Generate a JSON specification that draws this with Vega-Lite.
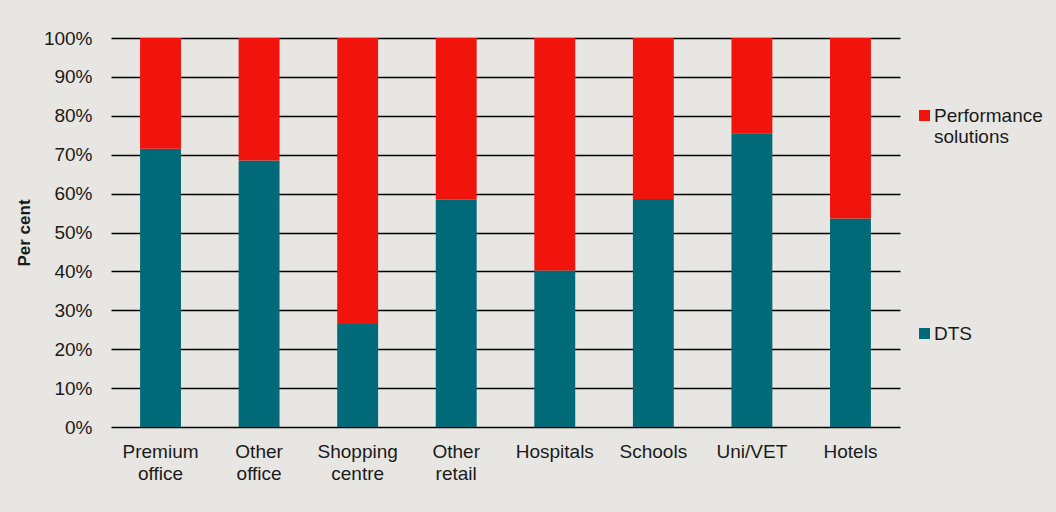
{
  "$schema": "https://vega.github.io/schema/vega-lite/v6.json",
  "width": 789,
  "height": 389,
  "autosize": "none",
  "padding": {"left": 111, "top": 38, "right": 156, "bottom": 85},
  "background": "#e8e6e2",
  "config": {
    "view": {"stroke": null},
    "font": "Liberation Sans",
    "axis": {"labelColor": "#1a1a1a", "titleColor": "#1a1a1a"}
  },
  "data": {
    "values": [
      {"category": "Premium office", "type": "DTS", "share": 71.5},
      {"category": "Premium office", "type": "Performance solutions", "share": 28.5},
      {"category": "Other office", "type": "DTS", "share": 68.5},
      {"category": "Other office", "type": "Performance solutions", "share": 31.5},
      {"category": "Shopping centre", "type": "DTS", "share": 26.5},
      {"category": "Shopping centre", "type": "Performance solutions", "share": 73.5},
      {"category": "Other retail", "type": "DTS", "share": 58.4},
      {"category": "Other retail", "type": "Performance solutions", "share": 41.6},
      {"category": "Hospitals", "type": "DTS", "share": 40.2},
      {"category": "Hospitals", "type": "Performance solutions", "share": 59.8},
      {"category": "Schools", "type": "DTS", "share": 58.6},
      {"category": "Schools", "type": "Performance solutions", "share": 41.4},
      {"category": "Uni/VET", "type": "DTS", "share": 75.5},
      {"category": "Uni/VET", "type": "Performance solutions", "share": 24.5},
      {"category": "Hotels", "type": "DTS", "share": 53.6},
      {"category": "Hotels", "type": "Performance solutions", "share": 46.4}
    ]
  },
  "mark": {"type": "bar"},
  "encoding": {
    "x": {
      "field": "category",
      "type": "nominal",
      "sort": null,
      "scale": {"paddingInner": 0.585, "paddingOuter": 0.295},
      "axis": {
        "title": null,
        "labelAngle": 0,
        "ticks": false,
        "domain": false,
        "labelFontSize": 19,
        "labelPadding": 15,
        "labelLineHeight": 22,
        "labelExpr": "datum.label == 'Premium office' ? ['Premium', 'office'] : datum.label == 'Other office' ? ['Other', 'office'] : datum.label == 'Shopping centre' ? ['Shopping', 'centre'] : datum.label == 'Other retail' ? ['Other', 'retail'] : datum.label"
      }
    },
    "y": {
      "field": "share",
      "type": "quantitative",
      "stack": "zero",
      "scale": {"domain": [0, 100], "nice": false},
      "axis": {
        "title": "Per cent",
        "titleFontSize": 17,
        "titleFontWeight": "bold",
        "titlePadding": 10,
        "values": [0, 10, 20, 30, 40, 50, 60, 70, 80, 90, 100],
        "labelExpr": "datum.value + '%'",
        "labelFontSize": 19,
        "labelPadding": 19,
        "ticks": false,
        "domain": false,
        "grid": true,
        "gridColor": "#000000",
        "gridWidth": 1.3,
        "gridOpacity": 1
      }
    },
    "order": {"field": "type", "sort": "ascending"},
    "color": {
      "field": "type",
      "type": "nominal",
      "scale": {"domain": ["Performance solutions", "DTS"], "range": ["#f0140c", "#006a78"]},
      "legend": {
        "title": null,
        "orient": "none",
        "legendX": 804,
        "legendY": 68,
        "symbolType": "square",
        "symbolSize": 121,
        "symbolStrokeWidth": 0,
        "labelFontSize": 19,
        "labelColor": "#1a1a1a",
        "labelOffset": 0,
        "labelLineHeight": 23,
        "rowPadding": 177,
        "labelExpr": "datum.label == 'Performance solutions' ? ['Performance', 'solutions'] : datum.label"
      }
    }
  }
}
